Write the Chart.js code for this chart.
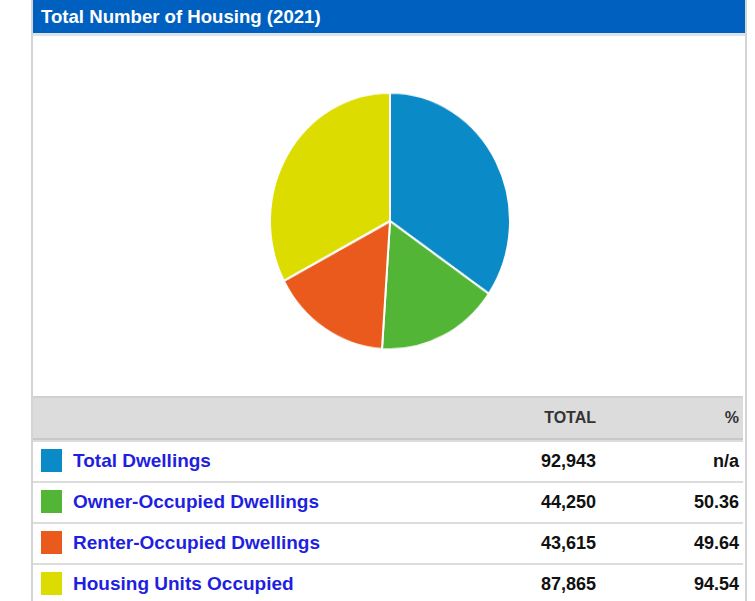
<!DOCTYPE html>
<html>
<head>
<meta charset="utf-8">
<script src="https://cdn.jsdelivr.net/npm/chart.js@4/dist/chart.umd.min.js"></script>
<style>
  body { margin: 0; background: #fff; font-family: "Liberation Sans", Arial, sans-serif; }
  #panel { position: absolute; left: 31px; top: 0; width: 712px; height: 640px;
           border-left: 2px solid #d4d4d4; border-right: 2px solid #d4d4d4; }
  #title { position: absolute; left: 0; top: 0; height: 33px; background: #0060bf;
           border-bottom: 3px solid #dde3ea; color: #fff; font-weight: bold; font-size: 18.6px;
           line-height: 33px; padding-left: 8px; width: 704px; }
  #pieWrap { position: absolute; left: 235px; top: 99px; width: 244px; height: 244px;
             transform: scaleY(1.07); transform-origin: 50% 50%; }
  #thead { position: absolute; left: 0; top: 396px; width: 710px; height: 40px; background: #dcdcdc;
           border-top: 2px solid #d0d0d0; border-bottom: 2px solid #c8c8c8; }
  .th { position: absolute; top: 0; line-height: 40px; font-weight: bold; font-size: 16px; color: #333; text-align: right; }
  .row { position: absolute; left: 0; width: 710px; height: 39px; border-top: 2px solid #dcdcdc; }
  .sw { position: absolute; left: 8px; top: 7px; width: 21px; height: 23px; }
  .lab { position: absolute; left: 40px; top: 0; line-height: 38px; font-weight: bold; font-size: 19px; color: #1f1fe0; }
  .num { position: absolute; top: 0; line-height: 38px; font-weight: bold; font-size: 18px; color: #111; text-align: right; }
</style>
</head>
<body>
<div id="panel">
  <div id="title">Total Number of Housing (2021)</div>
  <div id="pieWrap"><canvas id="myChart" width="244" height="244"></canvas></div>
  <div id="thead">
    <div class="th" style="right:147px">TOTAL</div>
    <div class="th" style="right:4px">%</div>
  </div>
  <div id="rows"></div>
</div>
<script>
// 데이터
var categories = ['Total Dwellings', 'Owner-Occupied Dwellings', 'Renter-Occupied Dwellings', 'Housing Units Occupied'];
var totals = [92943, 44250, 43615, 87865];
var percents = ['n/a', '50.36', '49.64', '94.54'];
var colors = ['#0a8bc7', '#53b535', '#ea5a1c', '#dcdc00'];

document.addEventListener('DOMContentLoaded', function () {
    // 테이블 행
    var rows = document.getElementById('rows');
    for (var i = 0; i < categories.length; i++) {
        var r = document.createElement('div');
        r.className = 'row';
        r.style.top = (440 + i * 41) + 'px';
        r.innerHTML = '<div class="sw" style="background:' + colors[i] + '"></div>' +
            '<div class="lab">' + categories[i] + '</div>' +
            '<div class="num" style="right:147px">' + totals[i].toLocaleString('en-US') + '</div>' +
            '<div class="num" style="right:4px">' + percents[i] + '</div>';
        rows.appendChild(r);
    }

    // 파이 차트
    var ctx = document.getElementById('myChart').getContext('2d');
    var myChart = new Chart(ctx, {
        type: 'pie',
        data: {
            labels: categories,
            datasets: [{
                data: totals,
                backgroundColor: colors,
                borderColor: '#ffffff',
                borderWidth: 2
            }]
        },
        options: {
            responsive: false,
            animation: false,
            layout: { padding: 1 },
            plugins: {
                legend: { display: false },
                tooltip: { enabled: false }
            }
        }
    });
});
</script>
</body>
</html>
